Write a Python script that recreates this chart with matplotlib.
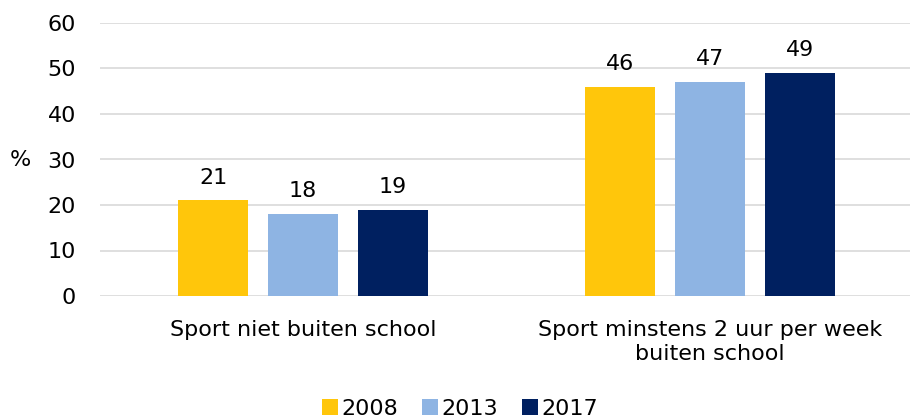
import matplotlib.pyplot as plt
import numpy as np

# data
categories = ['Sport niet buiten school', 'Sport minstens 2 uur per week\nbuiten school']
years = ['2008', '2013', '2017']
v2008 = [21, 46]
v2013 = [18, 47]
v2017 = [19, 49]
colors = ['#FFC60B', '#8EB4E3', '#002060']

plt.rcParams['font.family'] = ['DejaVu Sans']
fs = 16

fig = plt.figure(figsize=(9.1, 4.19), dpi=100)
ax = fig.add_axes([99.5 / 910, 1 - 296 / 419, 814 / 910, (296 - 23) / 419])

x = np.arange(len(categories))
w = 0.172
step = 0.221
for i, (vals, yr) in enumerate(zip([v2008, v2013, v2017], years)):
    bars = ax.bar(x + (i - 1) * step, vals, width=w, color=colors[i], label=yr, zorder=3)
    for b, v in zip(bars, vals):
        ax.text(b.get_x() + b.get_width() / 2, v + 3.7, str(v), ha='center', va='baseline',
                fontsize=fs, color='#000000', zorder=4)

ax.set_xlim(-0.5, 1.5)
ax.set_ylim(0, 60)
ax.set_yticks(range(0, 61, 10))
ax.yaxis.grid(True, color='#D9D9D9', linewidth=1.2, zorder=0)
ax.set_axisbelow(True)
for s in ax.spines.values():
    s.set_visible(False)
ax.tick_params(axis='both', length=0, labelsize=fs, colors='#000000')
ax.tick_params(axis='y', pad=17)
ax.tick_params(axis='x', pad=17)
ax.set_xticks(x)
ax.set_xticklabels(categories, linespacing=1.3)

fig.text(10 / 910, 1 - 160 / 419, '%', fontsize=fs, ha='left', va='center')

fig.legend(loc='center', bbox_to_anchor=(460 / 910, 1 - 409 / 419), ncol=3, frameon=False,
           fontsize=fs, handlelength=0.7, handleheight=0.7, handletextpad=0.15,
           columnspacing=1.1, borderpad=0)

plt.savefig('out.png', dpi=100)
